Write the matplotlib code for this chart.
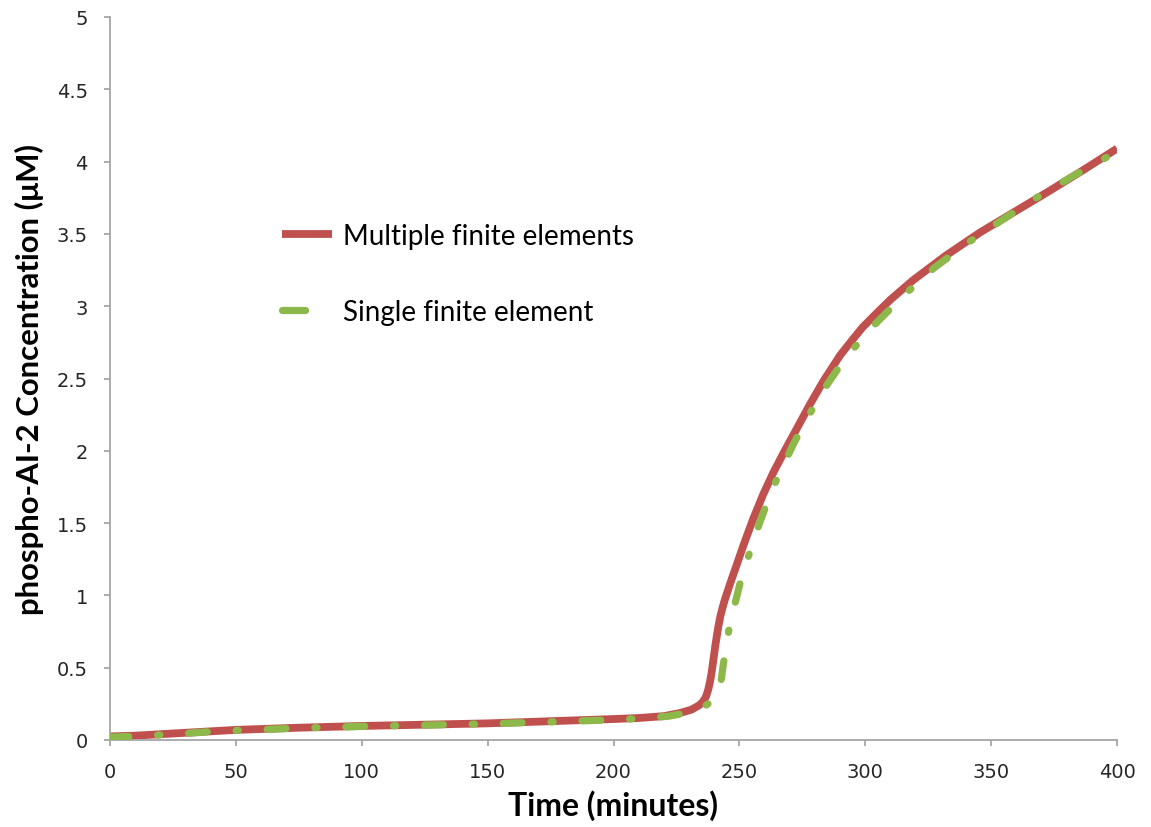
import numpy as np
import matplotlib.pyplot as plt
from matplotlib.lines import Line2D

# values
t_multi = [0, 10, 20, 30, 40, 50, 75, 100, 125, 150, 175, 200, 210, 220, 226, 231, 234,
           235.5, 236.6, 237.5, 238.3, 239, 239.6, 240.5, 241.6, 242.5, 243.4, 244.3, 246.5,
           248.9, 252, 255.5, 259.5, 263.5, 268, 272.7, 278, 283.3, 290, 295, 299, 305, 310,
           319, 332, 345.6, 360, 372, 386, 400]
c_multi = [0.025, 0.03, 0.04, 0.05, 0.06, 0.07, 0.085, 0.097, 0.106, 0.115, 0.13, 0.145,
           0.152, 0.165, 0.185, 0.21, 0.24, 0.265, 0.295, 0.34, 0.40, 0.47, 0.545, 0.66,
           0.78, 0.86, 0.92, 0.975, 1.09, 1.21, 1.365, 1.53, 1.70, 1.85, 2.00, 2.15, 2.32,
           2.48, 2.66, 2.77, 2.855, 2.96, 3.045, 3.18, 3.35, 3.51, 3.66, 3.785, 3.935, 4.09]

t_single = [0, 10, 20, 30, 40, 50, 75, 100, 125, 150, 175, 200, 210, 222, 230, 234.4, 238,
            241, 242.5, 243.6, 245, 246.3, 248.5, 250.3, 253, 255.5, 258, 260.8, 264, 267.5,
            271, 274.7, 282.6, 292, 303, 315, 327, 340, 354.7, 368, 382.5, 400]
c_single = [0.02, 0.025, 0.035, 0.045, 0.058, 0.066, 0.082, 0.094, 0.103, 0.112, 0.125,
            0.14, 0.148, 0.165, 0.19, 0.214, 0.255, 0.306, 0.38, 0.52, 0.67, 0.815, 0.96,
            1.086, 1.24, 1.367, 1.50, 1.63, 1.77, 1.90, 2.03, 2.155, 2.40, 2.64, 2.86, 3.07,
            3.26, 3.43, 3.60, 3.75, 3.90, 4.07]

labels = ['Multiple finite elements', 'Single finite element']
red = '#c0504d'
green = '#8db94b'

fig = plt.figure(figsize=(11.51, 8.28), dpi=100)
ax = fig.add_axes([110/1151, 1-741/828, (1117-110)/1151, (741-18)/828])

ax.plot(t_multi, c_multi, color=red, lw=5.6, solid_capstyle='butt',
        solid_joinstyle='round', zorder=2)
ax.plot(t_single, c_single, color=green, lw=5.2, dash_capstyle='round',
        dash_joinstyle='round', linestyle=(0, (2.6, 4.0, 0.3, 4.0)), zorder=3)

ax.set_xlim(0, 400)
ax.set_ylim(0, 5)
ax.set_xticks(np.arange(0, 401, 50))
ax.set_yticks(np.arange(0, 5.01, 0.5))
ax.set_yticklabels(['0', '0.5', '1', '1.5', '2', '2.5', '3', '3.5', '4', '4.5', '5'])

for s in ['top', 'right']:
    ax.spines[s].set_visible(False)
for s in ['left', 'bottom']:
    ax.spines[s].set_color('#a6a6a6')
    ax.spines[s].set_linewidth(1.3)
ax.tick_params(direction='out', length=4.5, width=1.3, color='#a6a6a6',
               labelsize=14, labelcolor='#262626', pad=11.5)
for lab in ax.get_xticklabels() + ax.get_yticklabels():
    lab.set_family('DejaVu Sans')

ax.set_xlabel('Time (minutes)', fontsize=23, fontweight='bold', family='Lato', labelpad=6)
ax.set_ylabel('phospho-AI-2 Concentration (\u03bcM)', fontsize=22.4, fontweight='bold',
              family='Lato', labelpad=9)

# legend handles: the green handle shows a single dash like the original
handles = [Line2D([], [], color=red, lw=5.6, solid_capstyle='butt'),
           Line2D([], [], color=green, lw=5.2, dash_capstyle='round',
                  linestyle=(0, (3.2, 20)))]
ax.legend(handles, labels, loc='upper left', bbox_to_anchor=(282/1151, 1-224/828),
          bbox_transform=fig.transFigure, frameon=False, borderpad=0,
          borderaxespad=0, handlelength=1.8, handletextpad=0.4, labelspacing=1.8,
          prop={'family': 'Lato', 'size': 20})

fig.savefig('out.png', dpi=100)
